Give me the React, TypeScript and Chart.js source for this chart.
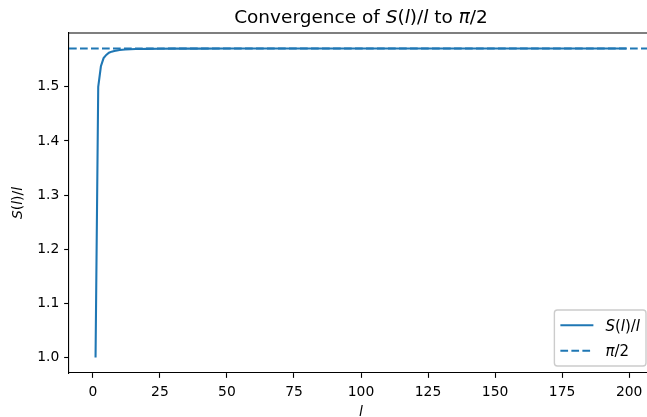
import React, { useEffect, useRef } from 'react';
import { Chart, registerables } from 'chart.js';

Chart.register(...registerables);

// ---- data ----
const lValues = [1, 2, 3, 4, 5, 6, 7, 8, 9, 10, 12, 14, 16, 18, 20, 25, 30, 40, 50, 75, 100, 125, 150, 175, 199];
const ratioValues = [
  1.0, 1.5, 1.538, 1.553, 1.559, 1.563, 1.565, 1.5663, 1.5672, 1.5679,
  1.5688, 1.5693, 1.5697, 1.5699, 1.5701, 1.5703, 1.5705, 1.5706, 1.5707, 1.5707,
  1.5708, 1.5708, 1.5708, 1.5708, 1.5708,
];
const piHalf = 1.5708;
const refLineX = [-8.9, 208.9];

const xTickValues = [0, 25, 50, 75, 100, 125, 150, 175, 200];
const xTickLabels = ['0', '25', '50', '75', '100', '125', '150', '175', '200'];
const yTickValues = [1.0, 1.1, 1.2, 1.3, 1.4, 1.5];
const yTickLabels = ['1.0', '1.1', '1.2', '1.3', '1.4', '1.5'];
const xRange = [-8.9, 208.9];
const yRange = [0.9715, 1.5994];

const titleParts: [string, boolean][] = [
  ['Convergence of ', false], ['S', true], ['(', false], ['l', true], [')/', false], ['l', true],
  [' to ', false], ['π', true], ['/2', false],
];
const yLabelParts: [string, boolean][] = [['S', true], ['(', false], ['l', true], [')/', false], ['l', true]];
const xLabelParts: [string, boolean][] = [['l', true]];
const legendRows: { parts: [string, boolean][]; dash: number[] }[] = [
  { parts: [['S', true], ['(', false], ['l', true], [')/', false], ['l', true]], dash: [] },
  { parts: [['π', true], ['/2', false]], dash: [7.7, 3.3] },
];

const FAM = "'DejaVu Sans', sans-serif";
const PX = 100 / 72;
const BLUE = '#1f77b4';
const FS = 10 * PX;
const TFS = 18.5;
const LFS = 15;

function partsWidth(ctx: CanvasRenderingContext2D, parts: [string, boolean][], size: number) {
  let w = 0;
  for (const [t, it] of parts) {
    ctx.font = `${it ? 'italic ' : ''}${size}px ${FAM}`;
    w += ctx.measureText(t).width;
  }
  return w;
}
function drawParts(ctx: CanvasRenderingContext2D, parts: [string, boolean][], size: number, x: number, y: number) {
  let cx = x;
  ctx.textAlign = 'left';
  for (const [t, it] of parts) {
    ctx.font = `${it ? 'italic ' : ''}${size}px ${FAM}`;
    ctx.fillText(t, cx, y);
    cx += ctx.measureText(t).width;
  }
}

export default function App() {
  const ref = useRef<HTMLCanvasElement>(null);
  useEffect(() => {
    const canvas = ref.current!;
    const deco = {
      id: 'deco',
      afterDraw(chart: any) {
        const ctx: CanvasRenderingContext2D = chart.ctx;
        const a = chart.chartArea;
        ctx.save();
        ctx.strokeStyle = '#000';
        ctx.lineWidth = 0.8 * PX;
        ctx.beginPath();
        ctx.moveTo(a.left, a.top);
        ctx.lineTo(a.right, a.top);
        ctx.lineTo(a.right, a.bottom);
        ctx.stroke();
        ctx.fillStyle = '#000';
        ctx.textBaseline = 'alphabetic';
        // title
        const cx = (a.left + a.right) / 2;
        const tw = partsWidth(ctx, titleParts, TFS);
        drawParts(ctx, titleParts, TFS, cx - tw / 2, 23);
        // x label
        const xw = partsWidth(ctx, xLabelParts, FS);
        drawParts(ctx, xLabelParts, FS, cx - xw / 2, 416);
        // y label
        const cy = (a.top + a.bottom) / 2;
        const yw = partsWidth(ctx, yLabelParts, FS);
        ctx.save();
        ctx.translate(22, cy);
        ctx.rotate(-Math.PI / 2);
        drawParts(ctx, yLabelParts, FS, -yw / 2, 0);
        ctx.restore();
        // legend (lower right, inside the axes)
        const pad = 0.4 * LFS;
        const hl = 2.2 * LFS;
        const htp = 0.8 * LFS;
        const rowH = 18.5;
        const sp = 7;
        let textW = 0;
        for (const r of legendRows) textW = Math.max(textW, partsWidth(ctx, r.parts, LFS));
        const bw = 2 * pad + hl + htp + textW;
        const bh = 2 * pad + legendRows.length * rowH + (legendRows.length - 1) * sp;
        const right = 646;
        const bottom = a.bottom - 0.5 * FS;
        const left = right - bw;
        const top = bottom - bh;
        ctx.beginPath();
        ctx.roundRect(left, top, bw, bh, 0.2 * LFS);
        ctx.fillStyle = 'rgba(255,255,255,0.8)';
        ctx.fill();
        ctx.strokeStyle = '#cccccc';
        ctx.lineWidth = 1 * PX;
        ctx.stroke();
        legendRows.forEach((r, i) => {
          const yc = top + pad + rowH / 2 + i * (rowH + sp);
          ctx.strokeStyle = BLUE;
          ctx.lineWidth = 1.5 * PX;
          ctx.setLineDash(r.dash);
          ctx.beginPath();
          ctx.moveTo(left + pad, yc);
          ctx.lineTo(left + pad + hl, yc);
          ctx.stroke();
          ctx.setLineDash([]);
          ctx.fillStyle = '#000';
          drawParts(ctx, r.parts, LFS, left + pad + hl + htp, yc + 5.5);
        });
        ctx.restore();
      },
    };
    const tickFont = { family: FAM, size: FS };
    const chart = new Chart(canvas, {
      type: 'line',
      data: {
        datasets: [
          {
            label: 'π/2',
            data: refLineX.map((x) => ({ x, y: piHalf })),
            borderColor: BLUE,
            borderWidth: 1.5 * PX,
            borderDash: [7.7, 3.3],
            pointRadius: 0,
            tension: 0,
          },
          {
            label: 'S(l)/l',
            data: lValues.map((x, i) => ({ x, y: ratioValues[i] })),
            borderColor: BLUE,
            borderWidth: 1.5 * PX,
            pointRadius: 0,
            tension: 0,
          },
        ],
      },
      options: {
        animation: false,
        responsive: false,
        devicePixelRatio: 1,
        layout: { padding: { left: 0, top: 33, right: 7, bottom: 0 } },
        plugins: { legend: { display: false }, tooltip: { enabled: false }, title: { display: false } },
        scales: {
          x: {
            type: 'linear',
            min: xRange[0],
            max: xRange[1],
            afterBuildTicks: (s: any) => { s.ticks = xTickValues.map((v) => ({ value: v })); },
            afterFit: (s: any) => { s.height = 44; },
            ticks: {
              autoSkip: false, maxRotation: 0, font: tickFont, color: '#000', padding: 3.5 * PX + 1,
              callback: (_v: any, i: number) => xTickLabels[i],
            },
            grid: { drawOnChartArea: false, drawTicks: true, tickLength: 3.5 * PX, tickWidth: 0.8 * PX, tickColor: '#000' },
            border: { display: true, color: '#000', width: 0.8 * PX },
          },
          y: {
            type: 'linear',
            min: yRange[0],
            max: yRange[1],
            afterBuildTicks: (s: any) => { s.ticks = yTickValues.map((v) => ({ value: v })); },
            afterFit: (s: any) => { s.width = 69; },
            ticks: {
              autoSkip: false, font: tickFont, color: '#000', padding: 3.5 * PX,
              callback: (_v: any, i: number) => yTickLabels[i],
            },
            grid: { drawOnChartArea: false, drawTicks: true, tickLength: 3.5 * PX, tickWidth: 0.8 * PX, tickColor: '#000' },
            border: { display: true, color: '#000', width: 0.8 * PX },
          },
        },
      },
      plugins: [deco],
    } as any);
    return () => chart.destroy();
  }, []);
  return (
    <div style={{ position: 'fixed', left: 0, top: 0, width: 647, height: 417, overflow: 'hidden', background: '#fff' }}>
      <canvas ref={ref} width={660} height={417} style={{ display: 'block', width: 660, height: 417 }} />
    </div>
  );
}
